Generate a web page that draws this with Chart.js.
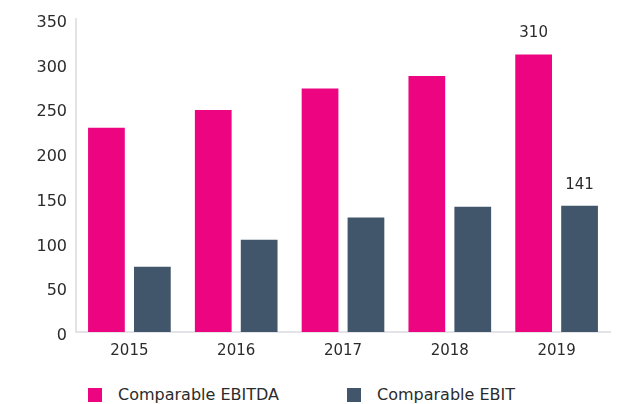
<html>
<head>
  <title>Comparable EBITDA and EBIT</title>
  <style>
    body { margin: 0; background: #fff; font-family: "DejaVu Sans", sans-serif; }
    #wrap { position: relative; width: 630px; height: 370px; }
    #legend { position: relative; width: 630px; height: 34px; }
    .item { position: absolute; top: 15px; display: flex; align-items: center; font-size: 16px; color: #2b2b2b; }
    .box { width: 14px; height: 14px; margin-right: 16px; }
  </style>
</head>
<body>
<div id="wrap"><canvas id="barChart"></canvas></div>
<div id="legend"></div>
<script src="https://cdn.jsdelivr.net/npm/chart.js"></script>
<script>
  // 資料
  const years = ['2015', '2016', '2017', '2018', '2019'];
  const ebitda = [228, 248, 272, 286, 310];
  const ebit = [73, 103, 128, 140, 141];
  const yTicks = [0, 50, 100, 150, 200, 250, 300, 350];
  const seriesNames = ['Comparable EBITDA', 'Comparable EBIT'];
  const seriesColors = ['#ec0480', '#41566a'];

  // 只標示最後一年的數值
  const lastLabels = {
    id: 'lastLabels',
    afterDatasetsDraw(chart) {
      const ctx = chart.ctx;
      ctx.save();
      ctx.font = '15px "DejaVu Sans"';
      ctx.fillStyle = '#2b2b2b';
      ctx.textAlign = 'center';
      ctx.textBaseline = 'middle';
      chart.data.datasets.forEach((ds, i) => {
        const meta = chart.getDatasetMeta(i);
        const last = ds.data.length - 1;
        const bar = meta.data[last];
        ctx.fillText(String(ds.data[last]), bar.x, bar.y - 21);
      });
      ctx.restore();
    }
  };

  new Chart(document.getElementById('barChart'), {
    type: 'bar',
    data: {
      labels: years,
      datasets: [
        { label: seriesNames[0], data: ebitda, backgroundColor: seriesColors[0] },
        { label: seriesNames[1], data: ebit, backgroundColor: seriesColors[1] }
      ]
    },
    options: {
      responsive: true,
      maintainAspectRatio: false,
      animation: false,
      categoryPercentage: 0.86,
      barPercentage: 0.8,
      layout: { padding: { top: 16, right: 20, left: 0, bottom: 0 } },
      plugins: {
        legend: { display: false },
        tooltip: { enabled: false }
      },
      scales: {
        x: {
          grid: { display: false, drawTicks: false },
          border: { display: true, color: '#e3e3e8', width: 2 },
          ticks: { color: '#2b2b2b', font: { family: 'DejaVu Sans', size: 15 }, padding: 10 }
        },
        y: {
          min: yTicks[0],
          max: yTicks[yTicks.length - 1],
          afterBuildTicks: axis => { axis.ticks = yTicks.map(v => ({ value: v })); },
          afterFit: axis => { axis.width = 76; },
          grid: { display: false, drawTicks: false },
          border: { display: true, color: '#e3e3e8', width: 2 },
          ticks: { color: '#2b2b2b', font: { family: 'DejaVu Sans', size: 16 }, padding: 9, labelOffset: 4 }
        }
      }
    },
    plugins: [lastLabels]
  });

  // 圖例
  const legend = document.getElementById('legend');
  const legendX = [88, 347];
  seriesNames.forEach((name, i) => {
    const item = document.createElement('div');
    item.className = 'item';
    item.style.left = legendX[i] + 'px';
    item.innerHTML = `<span class="box" style="background:${seriesColors[i]}"></span><span>${name}</span>`;
    legend.appendChild(item);
  });
</script>
</body>
</html>
